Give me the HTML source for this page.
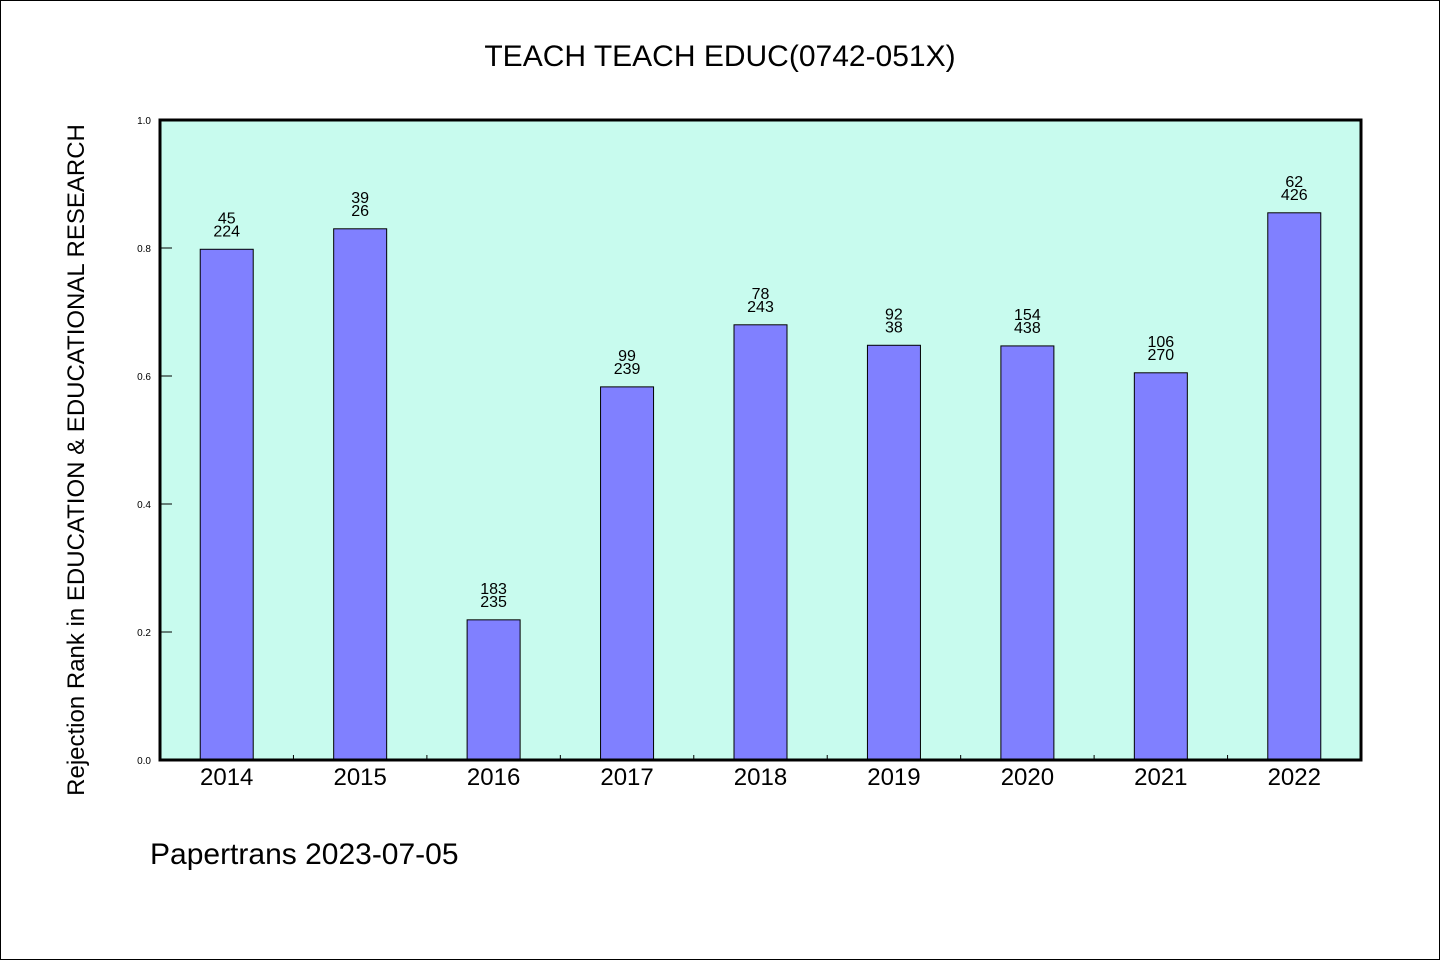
<!DOCTYPE html>
<html><head><meta charset="utf-8"><style>
body{margin:0;background:#fff}
svg text{font-family:"WenQuanYi Zen Hei","Liberation Sans",sans-serif}
</style></head><body>
<svg width="1440" height="960" viewBox="0 0 1440 960" xmlns="http://www.w3.org/2000/svg">
<rect x="0.5" y="0.5" width="1439" height="959" fill="#fff" stroke="#000"/>
<text x="720" y="66" text-anchor="middle" font-size="30">TEACH TEACH EDUC(0742-051X)</text>
<rect x="160" y="120" width="1201" height="640" fill="#c8fbee"/>
<g id="bars"></g>
<rect x="160" y="120" width="1201" height="640" fill="none" stroke="#000" stroke-width="3"/>
<g id="axes"></g>
<text transform="translate(84,460) rotate(-90)" text-anchor="middle" font-size="24">Rejection Rank in EDUCATION &amp; EDUCATIONAL RESEARCH</text>
<text x="150" y="864" font-size="30">Papertrans 2023-07-05</text>
</svg>
<script>
const categories=["2014","2015","2016","2017","2018","2019","2020","2021","2022"];
const values=[0.798,0.830,0.219,0.583,0.680,0.648,0.647,0.605,0.855];
const topLabels=["45","39","183","99","78","92","154","106","62"];
const bottomLabels=["224","26","235","239","243","38","438","270","426"];
const yTicks=[0,0.2,0.4,0.6,0.8,1.0];
const NS="http://www.w3.org/2000/svg";
const X0=160,W=1201,Y0=760,H=640;
const step=W/categories.length;
const xc=i=>X0+step*(i+0.5);
const y=v=>Y0-v*H;
function mk(t,a){const e=document.createElementNS(NS,t);for(const k in a)e.setAttribute(k,a[k]);return e;}
const bars=document.getElementById('bars'),axes=document.getElementById('axes');
categories.forEach((c,i)=>{
  const r=mk('rect',{x:xc(i)-26.5,y:y(values[i]),width:53,height:Y0-y(values[i]),fill:'#8080ff',stroke:'#000','stroke-width':1});
  
  
  bars.appendChild(r);
  const t1=mk('text',{x:xc(i),y:y(values[i])-26,'text-anchor':'middle','font-size':16});
  t1.textContent=topLabels[i];
  
  
  bars.appendChild(t1);
  const t2=mk('text',{x:xc(i),y:y(values[i])-13,'text-anchor':'middle','font-size':16});
  t2.textContent=bottomLabels[i];
  
  
  bars.appendChild(t2);
  const xl=mk('text',{x:xc(i),y:785,'text-anchor':'middle','font-size':24});
  xl.textContent=c;
  
  
  axes.appendChild(xl);
  if(i>0){
    const tk=mk('line',{x1:X0+step*i,x2:X0+step*i,y1:Y0-5,y2:Y0,stroke:'#000','stroke-width':1});
    
    
    axes.appendChild(tk);
  }
});
yTicks.forEach(v=>{
  const tk=mk('line',{x1:X0,x2:X0+12,y1:y(v),y2:y(v),stroke:'#000','stroke-width':1});
  
  
  axes.appendChild(tk);
  const t=mk('text',{x:151,y:y(v)+4,'text-anchor':'end','font-size':10});
  t.textContent=v.toFixed(1);
  
  
  axes.appendChild(t);
});
</script>
</body></html>
